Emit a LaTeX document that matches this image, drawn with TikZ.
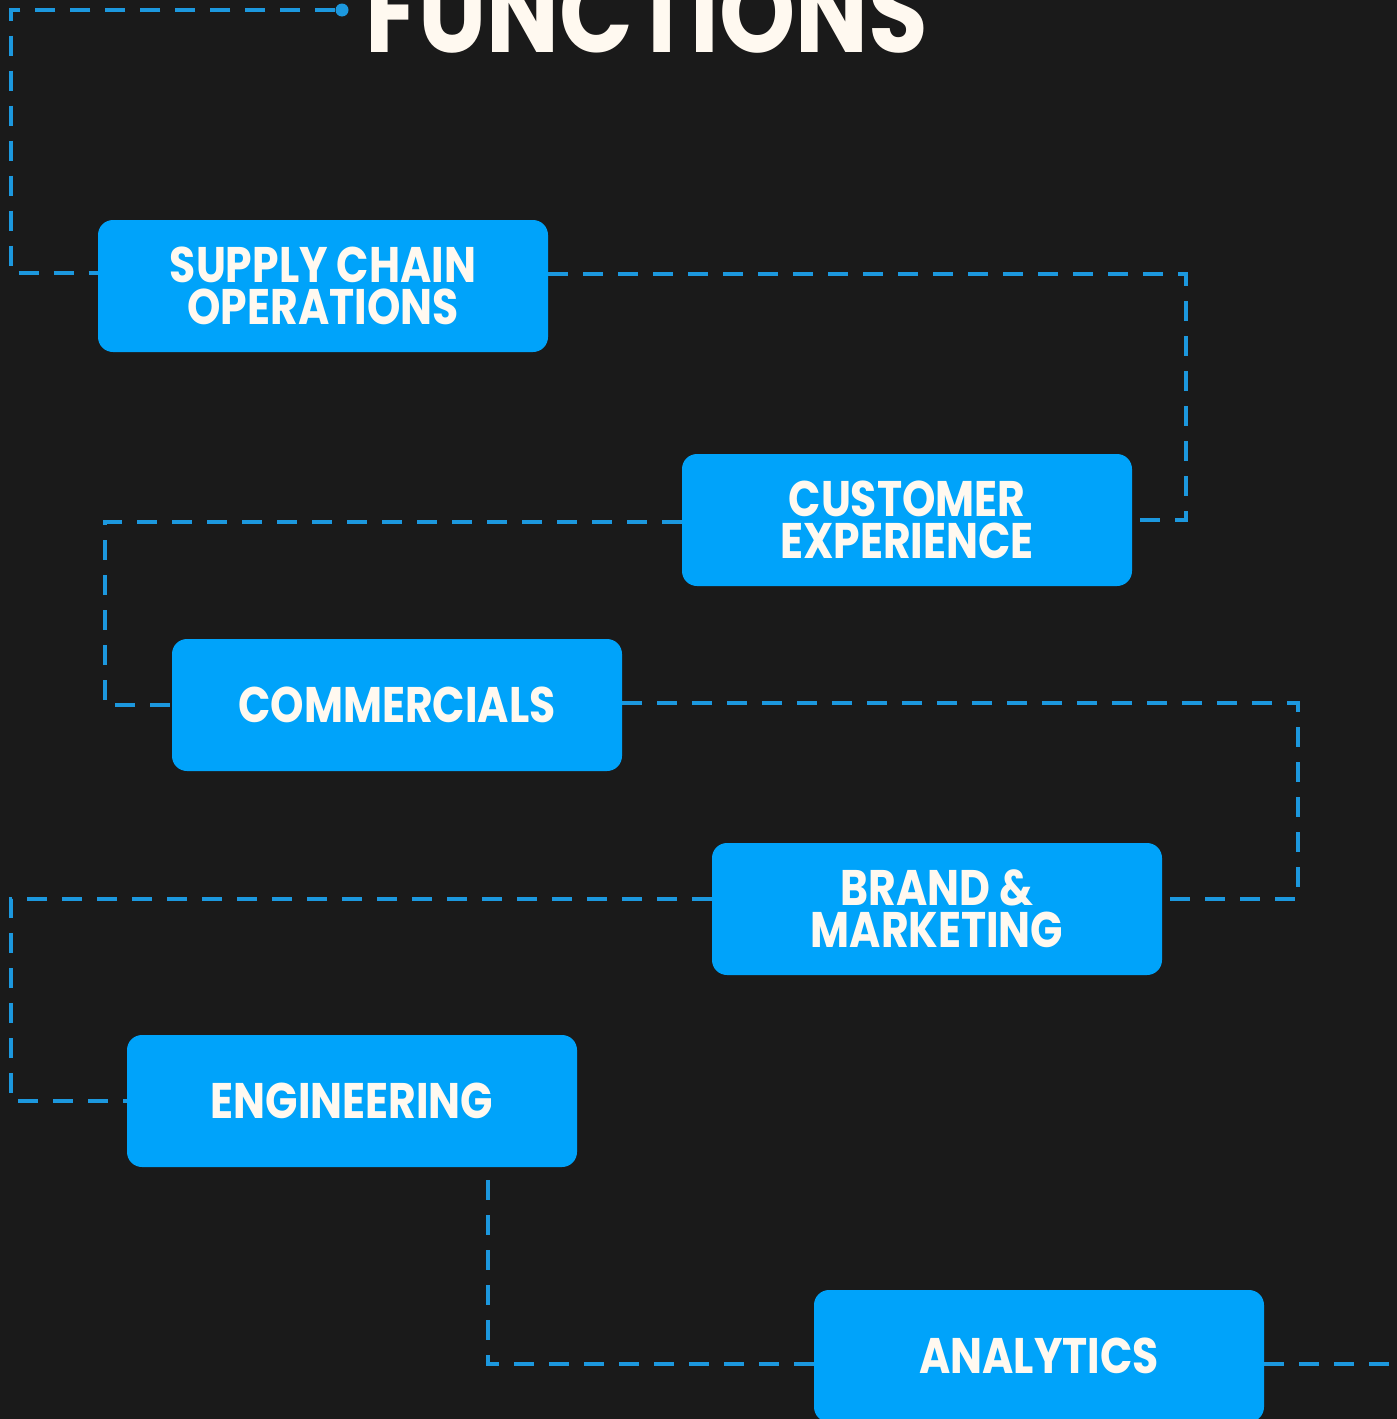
\documentclass[tikz,border=0pt]{standalone}
\usepackage{fontspec}
\setmainfont{Poppins}[FakeStretch=0.85]
\usepackage{xcolor}
\usepackage{tikz}
\definecolor{bgdark}{HTML}{1A1A1A}
\definecolor{fnblue}{HTML}{00A3FA}
\definecolor{lnblue}{HTML}{1C98DE}
\definecolor{cream}{HTML}{FFF9F0}

\begin{document}
\begin{tikzpicture}[x=1pt,y=-1pt,
  fnbox/.style={fill=fnblue, rounded corners=15pt, minimum width=450pt, minimum height=132pt,
    inner sep=0pt, align=center, text=cream, font=\bfseries\fontsize{50}{42}\selectfont},
  dline/.style={draw=lnblue, line width=3.5pt, dash pattern=on 20pt off 15pt},
  ttl/.style={text=cream, inner sep=0pt, font=\bfseries\fontsize{114}{114}\selectfont}]
\fill[bgdark] (0,0) rectangle (1397,1419);
\useasboundingbox (0,0) rectangle (1397,1419);

\node[ttl, anchor=base west] (title) at (365,52) {FUNCTIONS};
\node[circle, fill=lnblue, inner sep=0pt, minimum size=13pt] (dot) at (342,10) {};

\foreach \n/\x/\y/\t in {scm/323/286/{SUPPLY CHAIN\\OPERATIONS},
  cx/907/520/{CUSTOMER\\EXPERIENCE}, com/397/705/{COMMERCIALS},
  bm/937/909/{BRAND \&\\MARKETING}, eng/352/1101/{ENGINEERING},
  ana/1039/1356/{ANALYTICS}} {
\node[fnbox] (\n) at (\x,\y) {\t};
}

% connectors
\coordinate (k1) at (11,273);
\coordinate (k2) at (1186,274);
\coordinate (k3) at (105,522);
\coordinate (k4) at (1298,703);
\coordinate (k5) at (11,899);
\coordinate (k6) at (488,1364);
\coordinate (kend) at (1397,1364);

\draw[dline] (dot) -| (k1) -- (k1 -| scm.west);
\draw[dline] (scm.east |- k2) -- (k2) |- (cx.east);
\draw[dline] (cx.west |- k3) -- (k3) |- (com.west);
\draw[dline] (com.east |- k4) -- (k4) |- (bm.east |- k5);
\draw[dline] (bm.west |- k5) -- (k5) |- (eng.west);
\draw[dline] (k6 |- eng.south) ++(0,13) -- (k6) -- (k6 -| ana.west);
\draw[dline] (ana.east |- kend) -- (kend);
\end{tikzpicture}
\end{document}
